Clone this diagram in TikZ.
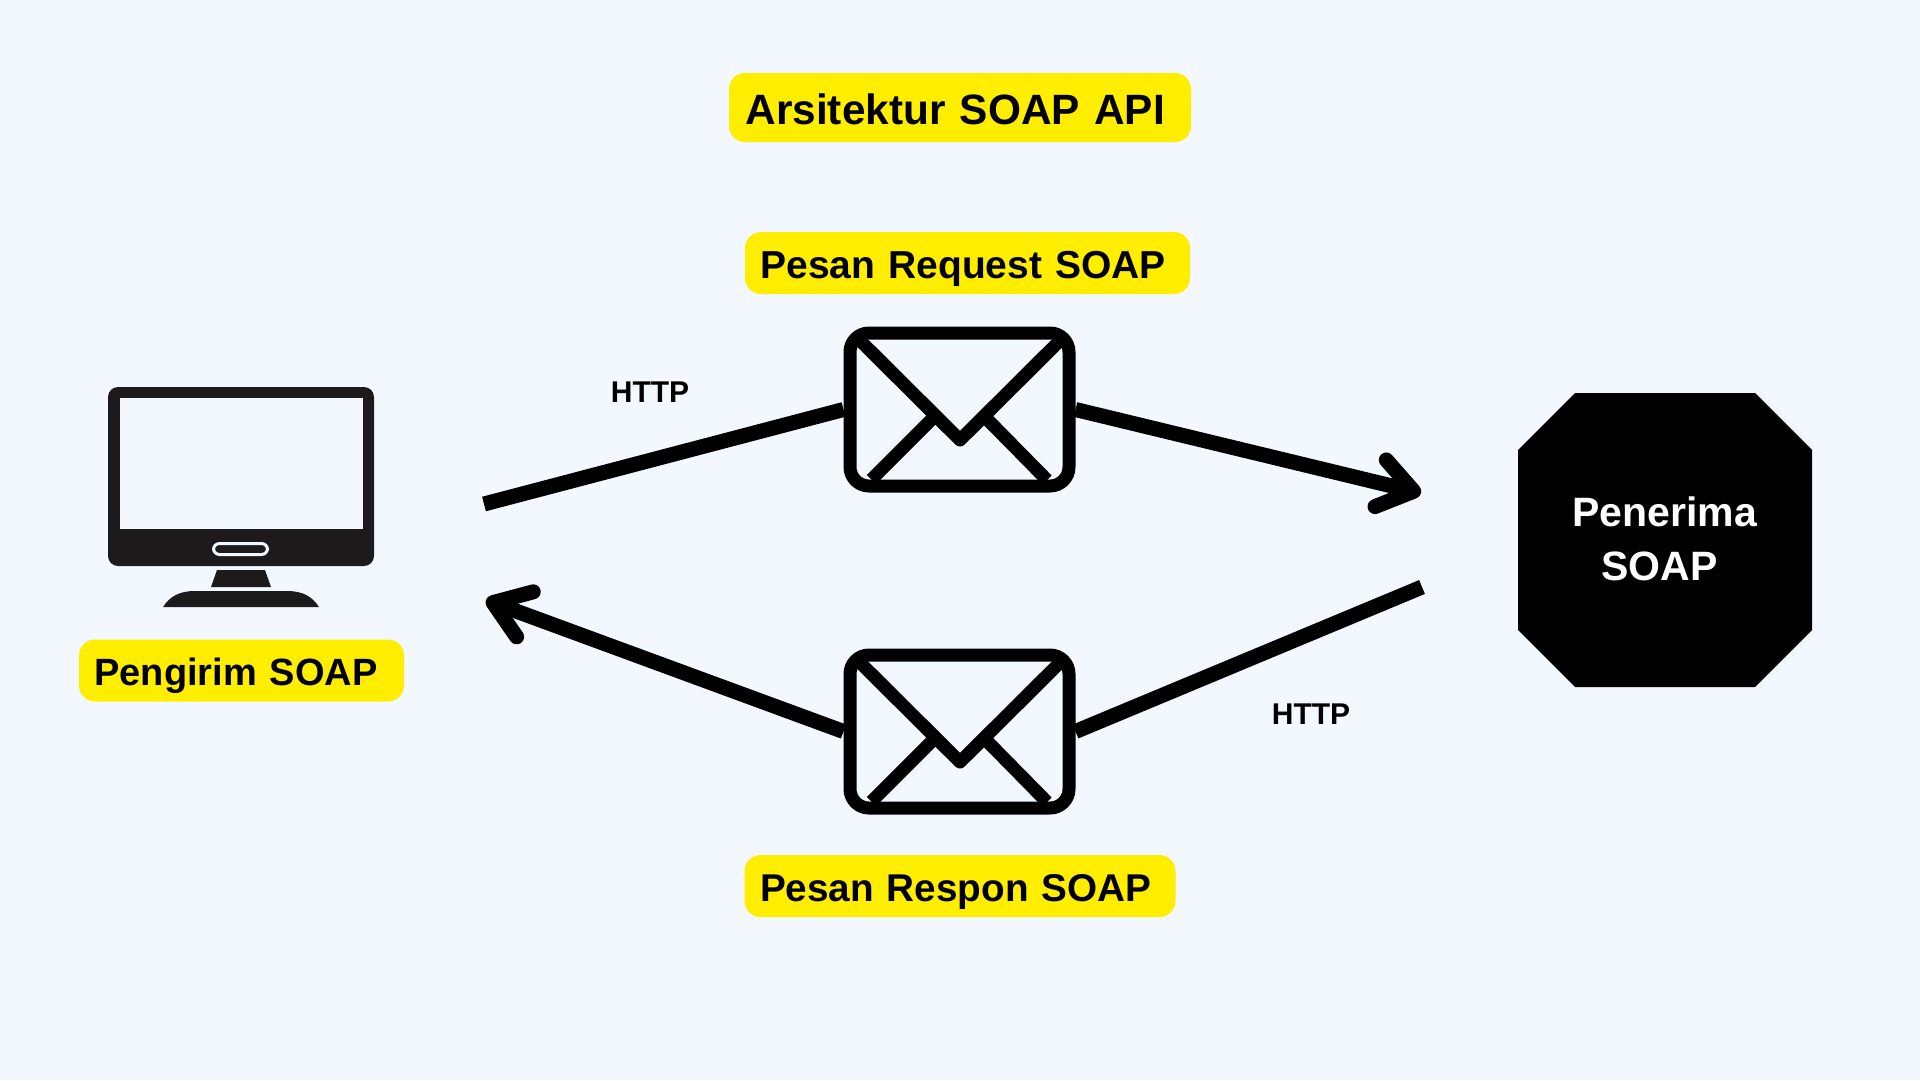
\documentclass[tikz,border=0pt]{standalone}
\usepackage{fontspec}
\setmainfont{Liberation Sans}
\usetikzlibrary{arrows.meta, positioning}
\definecolor{pagebg}{HTML}{F3F8FF}
\definecolor{tagyellow}{HTML}{FFEE00}
\definecolor{monitorblack}{HTML}{1C1A1B}

\begin{document}
\begin{tikzpicture}[x=1pt, y=-1pt, every node/.style={font=\fontsize{39}{54}\selectfont\bfseries},
    tag/.style={rectangle, fill=tagyellow, rounded corners=16pt, inner xsep=15.5pt, inner ysep=0pt, align=left, text height=46pt, text depth=16pt},
    envelope/.style={rectangle, draw, line width=13pt, rounded corners=19pt, minimum width=219pt, minimum height=153pt},
    flap/.style={line width=13pt, line join=round},
    wire/.style={line width=15pt},
    monitorpart/.style={rectangle, fill=monitorblack, inner sep=0pt},
    httplabel/.style={font=\fontsize{30}{34}\selectfont\bfseries}]
    \fill[pagebg] (0,0) rectangle (1920,1080);
    \useasboundingbox (0,0) rectangle (1920,1080);

    \node[tag, inner xsep=16.5pt, text width=429pt, text height=51pt, text depth=18pt, font=\fontsize{42.4}{54}\selectfont\bfseries] (title) at (960,107.5) {Arsitektur SOAP API};

    % envelopes
    \node[envelope] (envreq) at (959.5,409.5) {};
    \node[envelope, below=156pt of envreq] (envres) {};
    \foreach \env in {envreq, envres} {
        \draw[flap] ([shift={(-101,-70.5)}]\env.center) -- ([shift={(0.5,30.5)}]\env.center) -- ([shift={(102,-70.5)}]\env.center);
        \draw[flap] ([shift={(-88,70)}]\env.center) -- ([shift={(-25,7)}]\env.center);
        \draw[flap] ([shift={(25,7)}]\env.center) -- ([shift={(87.5,70.5)}]\env.center);
    }
    \node[tag, text width=414pt] (reqlabel) at (967.5,263) {Pesan Request SOAP};
    \node[tag, text width=400pt, font=\fontsize{38.7}{54}\selectfont\bfseries] (reslabel) at (960,886) {Pesan Respon SOAP};

    % monitor
    \node[monitorpart, rounded corners=10pt, minimum width=266pt, minimum height=179pt] (monitor) at (241,476.5) {};
    \node[rectangle, fill=pagebg, inner sep=0pt, minimum width=243pt, minimum height=130.5pt] (screen) at (241,463.25) {};
    \node[rectangle, draw=pagebg, fill=monitorblack, line width=3pt, rounded corners=6pt, inner sep=0pt, minimum width=54pt, minimum height=11pt] (slot) at (240.5,549) {};
    \fill[monitorblack] (217,570) -- (265,570) -- (271,587) -- (211,587) -- cycle;
    \fill[monitorblack] (163,607) .. controls (170,596) and (180,591) .. (195,591) -- (287,591) .. controls (302,591) and (312,596) .. (319,607) -- cycle;
    \node[tag, text width=294pt, font=\fontsize{38}{54}\selectfont\bfseries] (sender) at (241.5,670.5) {Pengirim SOAP};

    % receiver
    \fill[black] (1575,393) -- (1755,393) -- (1812,450) -- (1812,630) -- (1755,687) -- (1575,687) -- (1518,630) -- (1518,450) -- cycle;
    \node[text=white, align=center, font=\fontsize{41}{54}\selectfont\bfseries] (receiver) at (1664.5,539) {Penerima\\\hbox{SOAP\kern10pt}};

    % connectors
    \coordinate (reqstart) at (484,504);
    \coordinate (reqend) at (1421,493);
    \coordinate (resstart) at (1422,587);
    \coordinate (resend) at (486,600);
    \draw[wire] (reqstart) -- (envreq.west);
    \draw[wire, -{Straight Barb[round, length=34pt, width=48pt]}] (envreq.east) -- (reqend);
    \draw[wire] (resstart) -- (envres.east);
    \draw[wire, -{Straight Barb[round, length=34pt, width=48pt]}] (envres.west) -- (resend);

    \node[httplabel] (httpreq) at (650,392) {HTTP};
    \node[httplabel] (httpres) at (1311,714) {HTTP};
\end{tikzpicture}
\end{document}
